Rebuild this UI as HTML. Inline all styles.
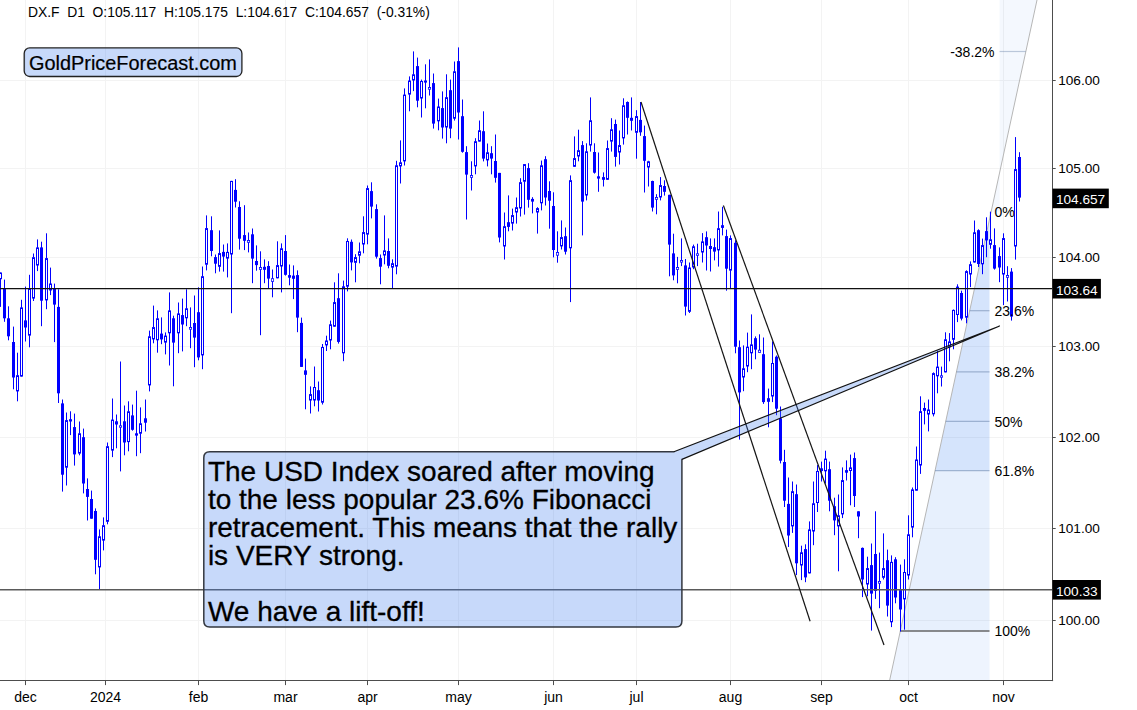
<!DOCTYPE html>
<html><head><meta charset="utf-8"><title>DX.F D1</title>
<style>
html,body{margin:0;padding:0;background:#fff;}
svg{display:block;}
text{font-family:"Liberation Sans",sans-serif;fill:#000;}
</style></head><body>
<svg width="1137" height="710" viewBox="0 0 1137 710">
<rect x="0" y="0" width="1137" height="710" fill="#fff"/>
<g stroke="#f3f3f3" stroke-width="1" fill="none">
<line x1="25.5" y1="0" x2="25.5" y2="680.5"/><line x1="105.5" y1="0" x2="105.5" y2="680.5"/><line x1="198.5" y1="0" x2="198.5" y2="680.5"/><line x1="285.5" y1="0" x2="285.5" y2="680.5"/><line x1="367.5" y1="0" x2="367.5" y2="680.5"/><line x1="458.5" y1="0" x2="458.5" y2="680.5"/><line x1="553.5" y1="0" x2="553.5" y2="680.5"/><line x1="636.5" y1="0" x2="636.5" y2="680.5"/><line x1="730.5" y1="0" x2="730.5" y2="680.5"/><line x1="821.5" y1="0" x2="821.5" y2="680.5"/><line x1="908.5" y1="0" x2="908.5" y2="680.5"/><line x1="1003.5" y1="0" x2="1003.5" y2="680.5"/><line x1="0" y1="80.5" x2="1052.5" y2="80.5"/><line x1="0" y1="168.5" x2="1052.5" y2="168.5"/><line x1="0" y1="257.5" x2="1052.5" y2="257.5"/><line x1="0" y1="346.5" x2="1052.5" y2="346.5"/><line x1="0" y1="437.5" x2="1052.5" y2="437.5"/><line x1="0" y1="528.5" x2="1052.5" y2="528.5"/><line x1="0" y1="620.5" x2="1052.5" y2="620.5"/>
</g>
<g id="fib">
<polygon points="991.1,211.7 989.5,211.7 989.5,470.7 935.0,470.7" fill="rgba(60,130,240,0.215)"/>
<polygon points="935.0,470.7 989.5,470.7 989.5,631.0 900.3,631.0" fill="rgba(60,130,240,0.12)"/>
<polygon points="900.3,631.0 989.5,631.0 989.5,680.5 889.6,680.5" fill="rgba(60,130,240,0.085)"/>
<polygon points="991.1,211.7 999.6,211.7 999.6,0.0 1037.0,0.0" fill="rgba(60,130,240,0.06)"/>
<line x1="889.6" y1="680.5" x2="1037.0" y2="0" stroke="#b6b6b6" stroke-width="1"/>
<line x1="969.7" y1="310.7" x2="989.5" y2="310.7" stroke="rgba(100,125,165,0.5)" stroke-width="1.2"/>
<line x1="956.4" y1="371.9" x2="989.5" y2="371.9" stroke="rgba(100,125,165,0.5)" stroke-width="1.2"/>
<line x1="945.7" y1="421.3" x2="989.5" y2="421.3" stroke="rgba(100,125,165,0.5)" stroke-width="1.2"/>
<line x1="935.0" y1="470.7" x2="989.5" y2="470.7" stroke="rgba(100,125,165,0.5)" stroke-width="1.2"/>
<line x1="999.6" y1="51.5" x2="1025.8" y2="51.5" stroke="rgba(100,125,165,0.4)" stroke-width="1.2"/>
<line x1="900.3" y1="631.0" x2="989.5" y2="631.0" stroke="#666" stroke-width="1.6"/>
</g>
<g id="candles" stroke="#0000ff" stroke-width="1" fill="#0000ff">
<line x1="0.5" y1="272.5" x2="0.5" y2="306.9"/><rect x="-0.5" y="273.00" width="2" height="5.70" fill="#fff" stroke-width="1"/>
<line x1="4.5" y1="279.6" x2="4.5" y2="321.8"/><rect x="3.0" y="288.4" width="3" height="29.9" stroke="none"/>
<line x1="8.5" y1="306.3" x2="8.5" y2="340.3"/><rect x="7.0" y="318.3" width="3" height="18.0" stroke="none"/>
<line x1="13.5" y1="326.6" x2="13.5" y2="389.3"/><rect x="12.0" y="342.0" width="3" height="35.5" stroke="none"/>
<line x1="17.5" y1="352.7" x2="17.5" y2="401.3"/><rect x="16.5" y="375.70" width="2" height="15.20" fill="#fff" stroke-width="1"/>
<line x1="21.5" y1="299.8" x2="21.5" y2="376.6"/><rect x="20.5" y="307.90" width="2" height="68.20" fill="#fff" stroke-width="1"/>
<line x1="25.5" y1="286.6" x2="25.5" y2="341.5"/><rect x="24.0" y="320.4" width="3" height="7.1" stroke="none"/>
<line x1="29.5" y1="274.8" x2="29.5" y2="347.3"/><rect x="28.5" y="288.90" width="2" height="46.20" fill="#fff" stroke-width="1"/>
<line x1="33.5" y1="253.5" x2="33.5" y2="301.0"/><rect x="32.5" y="257.70" width="2" height="40.40" fill="#fff" stroke-width="1"/>
<line x1="37.5" y1="239.4" x2="37.5" y2="271.1"/><rect x="36.5" y="247.90" width="2" height="17.10" fill="#fff" stroke-width="1"/>
<line x1="41.5" y1="241.7" x2="41.5" y2="326.2"/><rect x="40.0" y="247.4" width="3" height="53.3" stroke="none"/>
<line x1="46.5" y1="233.3" x2="46.5" y2="309.2"/><rect x="45.5" y="258.60" width="2" height="41.30" fill="#fff" stroke-width="1"/>
<line x1="50.5" y1="267.6" x2="50.5" y2="295.1"/><rect x="49.5" y="284.00" width="2" height="6.00" fill="#fff" stroke-width="1"/>
<line x1="54.5" y1="283.6" x2="54.5" y2="342.1"/><rect x="53.0" y="288.4" width="3" height="16.2" stroke="none"/>
<line x1="58.5" y1="289.3" x2="58.5" y2="403.0"/><rect x="57.0" y="306.9" width="3" height="86.4" stroke="none"/>
<line x1="62.5" y1="399.5" x2="62.5" y2="491.6"/><rect x="61.0" y="403.4" width="3" height="71.3" stroke="none"/>
<line x1="66.5" y1="412.5" x2="66.5" y2="485.5"/><rect x="65.5" y="420.60" width="2" height="46.60" fill="#fff" stroke-width="1"/>
<line x1="70.5" y1="411.3" x2="70.5" y2="435.1"/><rect x="69.0" y="419.2" width="3" height="2.3" stroke="none"/>
<line x1="74.5" y1="413.6" x2="74.5" y2="465.6"/><rect x="73.0" y="427.1" width="3" height="27.3" stroke="none"/>
<line x1="79.5" y1="421.5" x2="79.5" y2="455.3"/><rect x="78.5" y="433.80" width="2" height="19.30" fill="#fff" stroke-width="1"/>
<line x1="83.5" y1="428.6" x2="83.5" y2="493.4"/><rect x="82.0" y="437.2" width="3" height="46.3" stroke="none"/>
<line x1="87.5" y1="478.4" x2="87.5" y2="520.5"/><rect x="86.0" y="489.0" width="3" height="7.9" stroke="none"/>
<line x1="91.5" y1="490.6" x2="91.5" y2="518.7"/><rect x="90.0" y="499.0" width="3" height="19.7" stroke="none"/>
<line x1="95.5" y1="508.4" x2="95.5" y2="574.3"/><rect x="94.0" y="511.0" width="3" height="48.8" stroke="none"/>
<line x1="99.5" y1="529.4" x2="99.5" y2="589.4"/><rect x="98.5" y="536.80" width="2" height="30.10" fill="#fff" stroke-width="1"/>
<line x1="103.5" y1="517.4" x2="103.5" y2="550.4"/><rect x="102.5" y="525.70" width="2" height="14.40" fill="#fff" stroke-width="1"/>
<line x1="107.5" y1="442.5" x2="107.5" y2="524.3"/><rect x="106.5" y="446.70" width="2" height="74.60" fill="#fff" stroke-width="1"/>
<line x1="112.5" y1="398.5" x2="112.5" y2="457.1"/><rect x="111.5" y="420.10" width="2" height="30.00" fill="#fff" stroke-width="1"/>
<line x1="116.5" y1="414.5" x2="116.5" y2="448.3"/><rect x="115.0" y="421.3" width="3" height="3.2" stroke="none"/>
<line x1="120.5" y1="361.5" x2="120.5" y2="471.4"/><rect x="119.375" y="425.77" width="2.25" height="1.45" fill="#fff" stroke-width="0.75"/>
<line x1="124.5" y1="405.5" x2="124.5" y2="455.3"/><rect x="123.0" y="421.3" width="3" height="21.2" stroke="none"/>
<line x1="128.5" y1="401.3" x2="128.5" y2="451.3"/><rect x="127.5" y="411.80" width="2" height="29.80" fill="#fff" stroke-width="1"/>
<line x1="132.5" y1="404.6" x2="132.5" y2="430.7"/><rect x="131.0" y="415.4" width="3" height="14.4" stroke="none"/>
<line x1="136.5" y1="390.7" x2="136.5" y2="456.2"/><rect x="135.0" y="433.3" width="3" height="2.3" stroke="none"/>
<line x1="140.5" y1="407.4" x2="140.5" y2="453.2"/><rect x="139.5" y="423.80" width="2" height="9.40" fill="#fff" stroke-width="1"/>
<line x1="145.5" y1="399.5" x2="145.5" y2="431.5"/><rect x="144.0" y="418.3" width="3" height="4.4" stroke="none"/>
<line x1="149.5" y1="330.6" x2="149.5" y2="391.4"/><rect x="148.5" y="336.80" width="2" height="48.10" fill="#fff" stroke-width="1"/>
<line x1="153.5" y1="305.6" x2="153.5" y2="343.3"/><rect x="152.5" y="327.60" width="2" height="11.30" fill="#fff" stroke-width="1"/>
<line x1="157.5" y1="310.4" x2="157.5" y2="352.7"/><rect x="156.5" y="318.80" width="2" height="21.00" fill="#fff" stroke-width="1"/>
<line x1="161.5" y1="317.4" x2="161.5" y2="344.2"/><rect x="160.0" y="333.6" width="3" height="5.8" stroke="none"/>
<line x1="165.5" y1="332.4" x2="165.5" y2="354.4"/><rect x="164.5" y="336.10" width="2" height="6.00" fill="#fff" stroke-width="1"/>
<line x1="169.5" y1="292.4" x2="169.5" y2="365.5"/><rect x="168.5" y="310.90" width="2" height="21.90" fill="#fff" stroke-width="1"/>
<line x1="173.5" y1="315.7" x2="173.5" y2="386.3"/><rect x="172.0" y="318.3" width="3" height="24.3" stroke="none"/>
<line x1="178.5" y1="302.5" x2="178.5" y2="353.2"/><rect x="177.5" y="313.90" width="2" height="18.90" fill="#fff" stroke-width="1"/>
<line x1="182.5" y1="298.6" x2="182.5" y2="351.4"/><rect x="181.0" y="315.1" width="3" height="9.4" stroke="none"/>
<line x1="186.5" y1="289.3" x2="186.5" y2="326.2"/><rect x="185.5" y="308.80" width="2" height="9.00" fill="#fff" stroke-width="1"/>
<line x1="190.5" y1="307.4" x2="190.5" y2="348.2"/><rect x="189.375" y="327.48" width="2.25" height="1.75" fill="#fff" stroke-width="0.75"/>
<line x1="194.5" y1="295.5" x2="194.5" y2="367.2"/><rect x="193.0" y="323.0" width="3" height="14.6" stroke="none"/>
<line x1="198.5" y1="287.3" x2="198.5" y2="360.3"/><rect x="197.0" y="312.2" width="3" height="45.2" stroke="none"/>
<line x1="202.5" y1="266.5" x2="202.5" y2="369.2"/><rect x="201.5" y="276.70" width="2" height="78.20" fill="#fff" stroke-width="1"/>
<line x1="206.5" y1="215.4" x2="206.5" y2="270.4"/><rect x="205.5" y="228.60" width="2" height="35.60" fill="#fff" stroke-width="1"/>
<line x1="211.5" y1="216.3" x2="211.5" y2="256.3"/><rect x="210.0" y="230.2" width="3" height="20.8" stroke="none"/>
<line x1="215.5" y1="254.5" x2="215.5" y2="273.3"/><rect x="214.0" y="257.1" width="3" height="6.6" stroke="none"/>
<line x1="219.5" y1="230.4" x2="219.5" y2="271.6"/><rect x="218.5" y="253.60" width="2" height="12.70" fill="#fff" stroke-width="1"/>
<line x1="223.5" y1="244.5" x2="223.5" y2="271.6"/><rect x="222.0" y="251.9" width="3" height="4.7" stroke="none"/>
<line x1="227.5" y1="243.4" x2="227.5" y2="277.4"/><rect x="226.5" y="252.40" width="2" height="5.70" fill="#fff" stroke-width="1"/>
<line x1="231.5" y1="180.9" x2="231.5" y2="313.2"/><rect x="230.5" y="181.40" width="2" height="72.60" fill="#fff" stroke-width="1"/>
<line x1="235.5" y1="179.2" x2="235.5" y2="207.5"/><rect x="234.0" y="189.9" width="3" height="11.8" stroke="none"/>
<line x1="239.5" y1="201.3" x2="239.5" y2="249.6"/><rect x="238.0" y="207.0" width="3" height="31.7" stroke="none"/>
<line x1="244.5" y1="205.2" x2="244.5" y2="250.1"/><rect x="243.0" y="235.1" width="3" height="5.7" stroke="none"/>
<line x1="248.5" y1="232.5" x2="248.5" y2="252.4"/><rect x="247.375" y="240.47" width="2.25" height="1.85" fill="#fff" stroke-width="0.75"/>
<line x1="252.5" y1="228.5" x2="252.5" y2="283.2"/><rect x="251.0" y="234.3" width="3" height="24.3" stroke="none"/>
<line x1="256.5" y1="245.4" x2="256.5" y2="270.7"/><rect x="255.0" y="261.0" width="3" height="4.1" stroke="none"/>
<line x1="260.5" y1="251.3" x2="260.5" y2="335.2"/><rect x="259.375" y="267.57" width="2.25" height="1.85" fill="#fff" stroke-width="0.75"/>
<line x1="264.5" y1="259.4" x2="264.5" y2="283.2"/><rect x="263.0" y="266.8" width="3" height="3.0" stroke="none"/>
<line x1="268.5" y1="261.2" x2="268.5" y2="288.8"/><rect x="267.0" y="266.0" width="3" height="12.6" stroke="none"/>
<line x1="272.5" y1="269.5" x2="272.5" y2="297.3"/><rect x="271.375" y="278.68" width="2.25" height="2.75" fill="#fff" stroke-width="0.75"/>
<line x1="277.5" y1="241.3" x2="277.5" y2="278.3"/><rect x="276.5" y="265.60" width="2" height="12.20" fill="#fff" stroke-width="1"/>
<line x1="281.5" y1="243.4" x2="281.5" y2="292.4"/><rect x="280.5" y="248.80" width="2" height="17.20" fill="#fff" stroke-width="1"/>
<line x1="285.5" y1="235.1" x2="285.5" y2="275.6"/><rect x="284.0" y="251.0" width="3" height="23.8" stroke="none"/>
<line x1="289.5" y1="264.5" x2="289.5" y2="285.3"/><rect x="288.0" y="275.1" width="3" height="2.6" stroke="none"/>
<line x1="293.5" y1="265.4" x2="293.5" y2="299.1"/><rect x="292.0" y="275.6" width="3" height="3.2" stroke="none"/>
<line x1="297.5" y1="270.4" x2="297.5" y2="332.2"/><rect x="296.0" y="275.1" width="3" height="42.5" stroke="none"/>
<line x1="301.5" y1="317.6" x2="301.5" y2="366.9"/><rect x="300.0" y="322.9" width="3" height="44.0" stroke="none"/>
<line x1="305.5" y1="358.6" x2="305.5" y2="409.3"/><rect x="304.0" y="370.4" width="3" height="4.4" stroke="none"/>
<line x1="310.5" y1="386.4" x2="310.5" y2="413.5"/><rect x="309.5" y="394.60" width="2" height="5.40" fill="#fff" stroke-width="1"/>
<line x1="314.5" y1="366.5" x2="314.5" y2="406.3"/><rect x="313.5" y="387.50" width="2" height="12.50" fill="#fff" stroke-width="1"/>
<line x1="318.5" y1="381.5" x2="318.5" y2="411.5"/><rect x="317.0" y="390.2" width="3" height="10.3" stroke="none"/>
<line x1="322.5" y1="344.0" x2="322.5" y2="404.5"/><rect x="321.5" y="347.50" width="2" height="54.70" fill="#fff" stroke-width="1"/>
<line x1="326.5" y1="335.7" x2="326.5" y2="351.0"/><rect x="325.5" y="341.00" width="2" height="3.90" fill="#fff" stroke-width="1"/>
<line x1="330.5" y1="320.6" x2="330.5" y2="349.3"/><rect x="329.5" y="324.80" width="2" height="15.20" fill="#fff" stroke-width="1"/>
<line x1="334.5" y1="282.3" x2="334.5" y2="326.7"/><rect x="333.5" y="302.60" width="2" height="23.60" fill="#fff" stroke-width="1"/>
<line x1="338.5" y1="273.3" x2="338.5" y2="343.6"/><rect x="337.0" y="298.2" width="3" height="43.7" stroke="none"/>
<line x1="343.5" y1="280.6" x2="343.5" y2="361.2"/><rect x="342.5" y="286.80" width="2" height="66.00" fill="#fff" stroke-width="1"/>
<line x1="347.5" y1="238.3" x2="347.5" y2="291.4"/><rect x="346.5" y="241.50" width="2" height="44.70" fill="#fff" stroke-width="1"/>
<line x1="351.5" y1="239.5" x2="351.5" y2="270.4"/><rect x="350.0" y="241.8" width="3" height="20.6" stroke="none"/>
<line x1="355.5" y1="254.2" x2="355.5" y2="282.3"/><rect x="354.5" y="257.60" width="2" height="4.70" fill="#fff" stroke-width="1"/>
<line x1="359.5" y1="242.5" x2="359.5" y2="263.3"/><rect x="358.5" y="251.80" width="2" height="3.40" fill="#fff" stroke-width="1"/>
<line x1="363.5" y1="216.3" x2="363.5" y2="253.3"/><rect x="362.5" y="232.60" width="2" height="11.40" fill="#fff" stroke-width="1"/>
<line x1="367.5" y1="185.5" x2="367.5" y2="244.3"/><rect x="366.5" y="188.60" width="2" height="45.50" fill="#fff" stroke-width="1"/>
<line x1="371.5" y1="182.3" x2="371.5" y2="218.4"/><rect x="370.0" y="191.1" width="3" height="15.5" stroke="none"/>
<line x1="376.5" y1="204.3" x2="376.5" y2="258.6"/><rect x="375.0" y="209.1" width="3" height="47.6" stroke="none"/>
<line x1="380.5" y1="254.5" x2="380.5" y2="284.3"/><rect x="379.0" y="258.1" width="3" height="8.6" stroke="none"/>
<line x1="384.5" y1="215.4" x2="384.5" y2="264.3"/><rect x="383.5" y="250.90" width="2" height="4.10" fill="#fff" stroke-width="1"/>
<line x1="388.5" y1="238.4" x2="388.5" y2="268.3"/><rect x="387.0" y="251.0" width="3" height="14.8" stroke="none"/>
<line x1="392.5" y1="259.3" x2="392.5" y2="288.7"/><rect x="391.5" y="263.70" width="2" height="3.40" fill="#fff" stroke-width="1"/>
<line x1="396.5" y1="160.8" x2="396.5" y2="274.3"/><rect x="395.5" y="165.80" width="2" height="100.30" fill="#fff" stroke-width="1"/>
<line x1="400.5" y1="140.4" x2="400.5" y2="183.5"/><rect x="399.5" y="162.80" width="2" height="3.10" fill="#fff" stroke-width="1"/>
<line x1="404.5" y1="88.4" x2="404.5" y2="165.5"/><rect x="403.5" y="95.10" width="2" height="65.80" fill="#fff" stroke-width="1"/>
<line x1="409.5" y1="76.4" x2="409.5" y2="111.3"/><rect x="408.5" y="81.00" width="2" height="13.10" fill="#fff" stroke-width="1"/>
<line x1="413.5" y1="51.4" x2="413.5" y2="91.1"/><rect x="412.5" y="74.80" width="2" height="5.20" fill="#fff" stroke-width="1"/>
<line x1="417.5" y1="57.6" x2="417.5" y2="107.3"/><rect x="416.0" y="66.1" width="3" height="34.6" stroke="none"/>
<line x1="421.5" y1="79.6" x2="421.5" y2="117.5"/><rect x="420.5" y="81.50" width="2" height="16.50" fill="#fff" stroke-width="1"/>
<line x1="425.5" y1="64.3" x2="425.5" y2="108.3"/><rect x="424.0" y="80.5" width="3" height="2.1" stroke="none"/>
<line x1="429.5" y1="59.4" x2="429.5" y2="95.5"/><rect x="428.375" y="87.58" width="2.25" height="1.65" fill="#fff" stroke-width="0.75"/>
<line x1="433.5" y1="73.5" x2="433.5" y2="128.6"/><rect x="432.0" y="83.1" width="3" height="40.5" stroke="none"/>
<line x1="438.5" y1="98.6" x2="438.5" y2="130.3"/><rect x="437.5" y="107.00" width="2" height="13.80" fill="#fff" stroke-width="1"/>
<line x1="442.5" y1="91.4" x2="442.5" y2="138.6"/><rect x="441.0" y="108.1" width="3" height="19.4" stroke="none"/>
<line x1="446.5" y1="74.3" x2="446.5" y2="143.3"/><rect x="445.5" y="97.70" width="2" height="29.30" fill="#fff" stroke-width="1"/>
<line x1="450.5" y1="79.6" x2="450.5" y2="138.2"/><rect x="449.0" y="90.2" width="3" height="38.4" stroke="none"/>
<line x1="454.5" y1="61.5" x2="454.5" y2="120.6"/><rect x="453.5" y="71.80" width="2" height="46.40" fill="#fff" stroke-width="1"/>
<line x1="458.5" y1="47.4" x2="458.5" y2="139.5"/><rect x="457.0" y="61.1" width="3" height="51.4" stroke="none"/>
<line x1="462.5" y1="99.5" x2="462.5" y2="152.7"/><rect x="461.0" y="116.2" width="3" height="35.6" stroke="none"/>
<line x1="466.5" y1="146.2" x2="466.5" y2="219.5"/><rect x="465.0" y="152.1" width="3" height="22.5" stroke="none"/>
<line x1="471.5" y1="161.3" x2="471.5" y2="190.5"/><rect x="470.375" y="175.57" width="2.25" height="1.85" fill="#fff" stroke-width="0.75"/>
<line x1="475.5" y1="138.2" x2="475.5" y2="174.3"/><rect x="474.5" y="141.70" width="2" height="24.20" fill="#fff" stroke-width="1"/>
<line x1="479.5" y1="120.5" x2="479.5" y2="141.6"/><rect x="478.5" y="130.80" width="2" height="10.30" fill="#fff" stroke-width="1"/>
<line x1="483.5" y1="111.3" x2="483.5" y2="161.4"/><rect x="482.0" y="131.2" width="3" height="27.4" stroke="none"/>
<line x1="487.5" y1="143.5" x2="487.5" y2="166.4"/><rect x="486.5" y="152.80" width="2" height="7.10" fill="#fff" stroke-width="1"/>
<line x1="491.5" y1="146.2" x2="491.5" y2="174.3"/><rect x="490.0" y="153.2" width="3" height="5.4" stroke="none"/>
<line x1="495.5" y1="134.5" x2="495.5" y2="182.6"/><rect x="494.0" y="161.0" width="3" height="16.8" stroke="none"/>
<line x1="499.5" y1="172.9" x2="499.5" y2="242.4"/><rect x="498.0" y="172.9" width="3" height="64.6" stroke="none"/>
<line x1="504.5" y1="212.5" x2="504.5" y2="259.5"/><rect x="503.5" y="226.70" width="2" height="19.30" fill="#fff" stroke-width="1"/>
<line x1="508.5" y1="195.4" x2="508.5" y2="231.3"/><rect x="507.0" y="222.2" width="3" height="4.7" stroke="none"/>
<line x1="512.5" y1="208.6" x2="512.5" y2="230.5"/><rect x="511.5" y="215.60" width="2" height="7.50" fill="#fff" stroke-width="1"/>
<line x1="516.5" y1="197.5" x2="516.5" y2="223.6"/><rect x="515.5" y="207.70" width="2" height="4.30" fill="#fff" stroke-width="1"/>
<line x1="520.5" y1="178.2" x2="520.5" y2="216.5"/><rect x="519.5" y="182.70" width="2" height="25.30" fill="#fff" stroke-width="1"/>
<line x1="524.5" y1="164.1" x2="524.5" y2="214.6"/><rect x="523.5" y="164.60" width="2" height="16.60" fill="#fff" stroke-width="1"/>
<line x1="528.5" y1="163.2" x2="528.5" y2="207.6"/><rect x="527.0" y="168.1" width="3" height="31.7" stroke="none"/>
<line x1="532.5" y1="197.2" x2="532.5" y2="213.4"/><rect x="531.0" y="198.9" width="3" height="2.7" stroke="none"/>
<line x1="537.5" y1="207.2" x2="537.5" y2="233.6"/><rect x="536.5" y="208.60" width="2" height="3.40" fill="#fff" stroke-width="1"/>
<line x1="541.5" y1="160.6" x2="541.5" y2="210.4"/><rect x="540.5" y="165.80" width="2" height="37.00" fill="#fff" stroke-width="1"/>
<line x1="545.5" y1="156.2" x2="545.5" y2="205.5"/><rect x="544.0" y="159.2" width="3" height="38.3" stroke="none"/>
<line x1="549.5" y1="181.3" x2="549.5" y2="228.7"/><rect x="548.0" y="191.0" width="3" height="9.7" stroke="none"/>
<line x1="553.5" y1="192.3" x2="553.5" y2="257.4"/><rect x="552.0" y="206.0" width="3" height="44.0" stroke="none"/>
<line x1="557.5" y1="231.3" x2="557.5" y2="262.7"/><rect x="556.375" y="252.47" width="2.25" height="2.75" fill="#fff" stroke-width="0.75"/>
<line x1="561.5" y1="220.4" x2="561.5" y2="249.5"/><rect x="560.5" y="237.60" width="2" height="8.30" fill="#fff" stroke-width="1"/>
<line x1="565.5" y1="227.5" x2="565.5" y2="254.5"/><rect x="564.0" y="236.2" width="3" height="15.5" stroke="none"/>
<line x1="570.5" y1="175.4" x2="570.5" y2="302.1"/><rect x="569.5" y="180.70" width="2" height="67.10" fill="#fff" stroke-width="1"/>
<line x1="574.5" y1="136.4" x2="574.5" y2="166.8"/><rect x="573.5" y="158.60" width="2" height="7.70" fill="#fff" stroke-width="1"/>
<line x1="578.5" y1="129.7" x2="578.5" y2="161.3"/><rect x="577.5" y="150.70" width="2" height="5.30" fill="#fff" stroke-width="1"/>
<line x1="582.5" y1="141.1" x2="582.5" y2="235.4"/><rect x="581.0" y="145.1" width="3" height="56.5" stroke="none"/>
<line x1="586.5" y1="143.3" x2="586.5" y2="200.4"/><rect x="585.5" y="151.80" width="2" height="43.20" fill="#fff" stroke-width="1"/>
<line x1="590.5" y1="97.4" x2="590.5" y2="151.6"/><rect x="589.5" y="120.80" width="2" height="24.20" fill="#fff" stroke-width="1"/>
<line x1="594.5" y1="143.3" x2="594.5" y2="173.6"/><rect x="593.0" y="152.0" width="3" height="20.7" stroke="none"/>
<line x1="598.5" y1="152.5" x2="598.5" y2="191.8"/><rect x="597.0" y="176.3" width="3" height="2.3" stroke="none"/>
<line x1="603.5" y1="172.4" x2="603.5" y2="186.5"/><rect x="602.0" y="177.1" width="3" height="2.7" stroke="none"/>
<line x1="607.5" y1="140.5" x2="607.5" y2="179.8"/><rect x="606.5" y="148.60" width="2" height="30.70" fill="#fff" stroke-width="1"/>
<line x1="611.5" y1="118.2" x2="611.5" y2="151.6"/><rect x="610.5" y="129.80" width="2" height="11.30" fill="#fff" stroke-width="1"/>
<line x1="615.5" y1="119.6" x2="615.5" y2="166.6"/><rect x="614.0" y="124.0" width="3" height="32.9" stroke="none"/>
<line x1="619.5" y1="130.5" x2="619.5" y2="164.5"/><rect x="618.5" y="145.60" width="2" height="6.40" fill="#fff" stroke-width="1"/>
<line x1="623.5" y1="98.3" x2="623.5" y2="144.6"/><rect x="622.5" y="105.80" width="2" height="32.10" fill="#fff" stroke-width="1"/>
<line x1="627.5" y1="101.4" x2="627.5" y2="134.5"/><rect x="626.0" y="102.0" width="3" height="15.8" stroke="none"/>
<line x1="631.5" y1="97.4" x2="631.5" y2="130.5"/><rect x="630.0" y="117.8" width="3" height="3.0" stroke="none"/>
<line x1="636.5" y1="110.2" x2="636.5" y2="158.7"/><rect x="635.5" y="116.60" width="2" height="15.70" fill="#fff" stroke-width="1"/>
<line x1="640.5" y1="102.0" x2="640.5" y2="135.8"/><rect x="639.0" y="119.9" width="3" height="12.4" stroke="none"/>
<line x1="644.5" y1="125.6" x2="644.5" y2="192.5"/><rect x="643.0" y="136.1" width="3" height="24.7" stroke="none"/>
<line x1="648.5" y1="160.8" x2="648.5" y2="186.5"/><rect x="647.5" y="161.80" width="2" height="5.20" fill="#fff" stroke-width="1"/>
<line x1="652.5" y1="180.7" x2="652.5" y2="211.5"/><rect x="651.0" y="181.0" width="3" height="26.6" stroke="none"/>
<line x1="656.5" y1="194.2" x2="656.5" y2="214.3"/><rect x="655.375" y="197.38" width="2.25" height="1.95" fill="#fff" stroke-width="0.75"/>
<line x1="660.5" y1="177.1" x2="660.5" y2="200.4"/><rect x="659.5" y="185.60" width="2" height="11.40" fill="#fff" stroke-width="1"/>
<line x1="664.5" y1="180.3" x2="664.5" y2="195.6"/><rect x="663.0" y="186.0" width="3" height="5.8" stroke="none"/>
<line x1="669.5" y1="194.8" x2="669.5" y2="276.3"/><rect x="668.0" y="194.8" width="3" height="49.8" stroke="none"/>
<line x1="673.5" y1="233.7" x2="673.5" y2="280.3"/><rect x="672.0" y="253.4" width="3" height="22.0" stroke="none"/>
<line x1="677.5" y1="256.9" x2="677.5" y2="283.3"/><rect x="676.375" y="267.48" width="2.25" height="1.95" fill="#fff" stroke-width="0.75"/>
<line x1="681.5" y1="238.4" x2="681.5" y2="266.1"/><rect x="680.375" y="260.48" width="2.25" height="1.65" fill="#fff" stroke-width="0.75"/>
<line x1="685.5" y1="259.0" x2="685.5" y2="315.5"/><rect x="684.0" y="265.4" width="3" height="41.2" stroke="none"/>
<line x1="689.5" y1="262.5" x2="689.5" y2="313.0"/><rect x="688.5" y="268.00" width="2" height="43.30" fill="#fff" stroke-width="1"/>
<line x1="693.5" y1="244.6" x2="693.5" y2="269.2"/><rect x="692.5" y="246.80" width="2" height="20.20" fill="#fff" stroke-width="1"/>
<line x1="697.5" y1="243.7" x2="697.5" y2="266.1"/><rect x="696.375" y="253.78" width="2.25" height="1.55" fill="#fff" stroke-width="0.75"/>
<line x1="702.5" y1="233.1" x2="702.5" y2="262.5"/><rect x="701.5" y="241.90" width="2" height="10.10" fill="#fff" stroke-width="1"/>
<line x1="706.5" y1="231.4" x2="706.5" y2="270.5"/><rect x="705.0" y="237.2" width="3" height="8.3" stroke="none"/>
<line x1="710.5" y1="238.4" x2="710.5" y2="271.5"/><rect x="709.0" y="246.0" width="3" height="3.0" stroke="none"/>
<line x1="714.5" y1="238.4" x2="714.5" y2="260.4"/><rect x="713.0" y="247.2" width="3" height="4.4" stroke="none"/>
<line x1="718.5" y1="211.5" x2="718.5" y2="266.6"/><rect x="717.5" y="228.70" width="2" height="21.20" fill="#fff" stroke-width="1"/>
<line x1="722.5" y1="206.8" x2="722.5" y2="235.4"/><rect x="721.0" y="225.2" width="3" height="2.7" stroke="none"/>
<line x1="726.5" y1="229.6" x2="726.5" y2="290.7"/><rect x="725.0" y="236.1" width="3" height="32.6" stroke="none"/>
<line x1="730.5" y1="235.4" x2="730.5" y2="288.9"/><rect x="729.5" y="238.60" width="2" height="31.50" fill="#fff" stroke-width="1"/>
<line x1="735.5" y1="240.2" x2="735.5" y2="353.3"/><rect x="734.0" y="242.8" width="3" height="103.9" stroke="none"/>
<line x1="739.5" y1="340.5" x2="739.5" y2="439.6"/><rect x="738.0" y="347.2" width="3" height="45.2" stroke="none"/>
<line x1="743.5" y1="345.4" x2="743.5" y2="391.2"/><rect x="742.5" y="368.80" width="2" height="8.20" fill="#fff" stroke-width="1"/>
<line x1="747.5" y1="332.6" x2="747.5" y2="372.2"/><rect x="746.5" y="347.20" width="2" height="18.80" fill="#fff" stroke-width="1"/>
<line x1="751.5" y1="314.4" x2="751.5" y2="369.2"/><rect x="750.5" y="344.90" width="2" height="7.90" fill="#fff" stroke-width="1"/>
<line x1="755.5" y1="336.4" x2="755.5" y2="359.3"/><rect x="754.0" y="338.2" width="3" height="11.4" stroke="none"/>
<line x1="759.5" y1="334.3" x2="759.5" y2="352.8"/><rect x="758.375" y="350.18" width="2.25" height="2.25" fill="#fff" stroke-width="0.75"/>
<line x1="763.5" y1="337.5" x2="763.5" y2="403.9"/><rect x="762.0" y="354.2" width="3" height="47.9" stroke="none"/>
<line x1="768.5" y1="388.6" x2="768.5" y2="427.3"/><rect x="767.0" y="398.2" width="3" height="3.6" stroke="none"/>
<line x1="772.5" y1="341.4" x2="772.5" y2="402.1"/><rect x="771.5" y="363.50" width="2" height="32.50" fill="#fff" stroke-width="1"/>
<line x1="776.5" y1="355.5" x2="776.5" y2="415.2"/><rect x="775.0" y="356.7" width="3" height="52.0" stroke="none"/>
<line x1="780.5" y1="406.5" x2="780.5" y2="463.4"/><rect x="779.0" y="418.3" width="3" height="42.4" stroke="none"/>
<line x1="784.5" y1="449.8" x2="784.5" y2="507.0"/><rect x="783.0" y="462.0" width="3" height="38.7" stroke="none"/>
<line x1="788.5" y1="477.5" x2="788.5" y2="547.0"/><rect x="787.0" y="503.9" width="3" height="31.6" stroke="none"/>
<line x1="792.5" y1="481.5" x2="792.5" y2="532.9"/><rect x="791.5" y="491.70" width="2" height="34.20" fill="#fff" stroke-width="1"/>
<line x1="796.5" y1="484.5" x2="796.5" y2="575.1"/><rect x="795.0" y="494.2" width="3" height="69.1" stroke="none"/>
<line x1="801.5" y1="545.7" x2="801.5" y2="580.1"/><rect x="800.5" y="552.80" width="2" height="12.20" fill="#fff" stroke-width="1"/>
<line x1="805.5" y1="544.3" x2="805.5" y2="582.2"/><rect x="804.0" y="549.1" width="3" height="28.3" stroke="none"/>
<line x1="809.5" y1="521.4" x2="809.5" y2="573.4"/><rect x="808.5" y="529.90" width="2" height="43.00" fill="#fff" stroke-width="1"/>
<line x1="813.5" y1="481.5" x2="813.5" y2="545.2"/><rect x="812.5" y="503.80" width="2" height="27.20" fill="#fff" stroke-width="1"/>
<line x1="817.5" y1="465.1" x2="817.5" y2="512.0"/><rect x="816.5" y="471.50" width="2" height="31.00" fill="#fff" stroke-width="1"/>
<line x1="821.5" y1="461.6" x2="821.5" y2="481.5"/><rect x="820.0" y="468.3" width="3" height="2.7" stroke="none"/>
<line x1="825.5" y1="450.7" x2="825.5" y2="483.6"/><rect x="824.5" y="459.10" width="2" height="11.70" fill="#fff" stroke-width="1"/>
<line x1="829.5" y1="461.6" x2="829.5" y2="511.3"/><rect x="828.0" y="469.2" width="3" height="31.5" stroke="none"/>
<line x1="834.5" y1="497.7" x2="834.5" y2="535.2"/><rect x="833.0" y="506.2" width="3" height="14.2" stroke="none"/>
<line x1="838.5" y1="494.5" x2="838.5" y2="571.3"/><rect x="837.5" y="515.80" width="2" height="10.10" fill="#fff" stroke-width="1"/>
<line x1="842.5" y1="467.4" x2="842.5" y2="518.1"/><rect x="841.5" y="480.60" width="2" height="33.30" fill="#fff" stroke-width="1"/>
<line x1="846.5" y1="460.4" x2="846.5" y2="480.5"/><rect x="845.0" y="470.1" width="3" height="2.6" stroke="none"/>
<line x1="850.5" y1="454.6" x2="850.5" y2="505.3"/><rect x="849.5" y="467.90" width="2" height="2.60" fill="#fff" stroke-width="1"/>
<line x1="854.5" y1="452.5" x2="854.5" y2="507.0"/><rect x="853.0" y="458.1" width="3" height="37.9" stroke="none"/>
<line x1="858.5" y1="511.3" x2="858.5" y2="538.2"/><rect x="857.0" y="511.3" width="3" height="5.2" stroke="none"/>
<line x1="862.5" y1="547.5" x2="862.5" y2="597.1"/><rect x="861.0" y="547.9" width="3" height="31.6" stroke="none"/>
<line x1="867.5" y1="556.7" x2="867.5" y2="596.3"/><rect x="866.5" y="568.60" width="2" height="15.40" fill="#fff" stroke-width="1"/>
<line x1="871.5" y1="543.5" x2="871.5" y2="630.6"/><rect x="870.0" y="565.1" width="3" height="28.5" stroke="none"/>
<line x1="875.5" y1="511.3" x2="875.5" y2="598.9"/><rect x="874.0" y="554.0" width="3" height="37.0" stroke="none"/>
<line x1="879.5" y1="552.6" x2="879.5" y2="608.2"/><rect x="878.375" y="581.38" width="2.25" height="1.85" fill="#fff" stroke-width="0.75"/>
<line x1="883.5" y1="533.4" x2="883.5" y2="579.5"/><rect x="882.5" y="568.60" width="2" height="8.70" fill="#fff" stroke-width="1"/>
<line x1="887.5" y1="549.6" x2="887.5" y2="616.5"/><rect x="886.0" y="560.2" width="3" height="45.4" stroke="none"/>
<line x1="891.5" y1="555.4" x2="891.5" y2="627.1"/><rect x="890.5" y="562.40" width="2" height="59.40" fill="#fff" stroke-width="1"/>
<line x1="895.5" y1="557.2" x2="895.5" y2="603.3"/><rect x="894.0" y="559.3" width="3" height="38.2" stroke="none"/>
<line x1="900.5" y1="564.6" x2="900.5" y2="631.5"/><rect x="899.0" y="590.1" width="3" height="19.4" stroke="none"/>
<line x1="904.5" y1="559.3" x2="904.5" y2="629.7"/><rect x="903.5" y="572.50" width="2" height="26.40" fill="#fff" stroke-width="1"/>
<line x1="908.5" y1="515.3" x2="908.5" y2="579.5"/><rect x="907.5" y="534.80" width="2" height="40.20" fill="#fff" stroke-width="1"/>
<line x1="912.5" y1="487.5" x2="912.5" y2="537.3"/><rect x="911.5" y="489.90" width="2" height="37.20" fill="#fff" stroke-width="1"/>
<line x1="916.5" y1="446.5" x2="916.5" y2="490.7"/><rect x="915.5" y="460.00" width="2" height="30.20" fill="#fff" stroke-width="1"/>
<line x1="920.5" y1="396.3" x2="920.5" y2="473.9"/><rect x="919.5" y="411.70" width="2" height="53.30" fill="#fff" stroke-width="1"/>
<line x1="924.5" y1="402.6" x2="924.5" y2="424.4"/><rect x="923.0" y="408.0" width="3" height="2.8" stroke="none"/>
<line x1="928.5" y1="399.5" x2="928.5" y2="431.4"/><rect x="927.5" y="410.00" width="2" height="4.00" fill="#fff" stroke-width="1"/>
<line x1="933.5" y1="372.4" x2="933.5" y2="416.4"/><rect x="932.5" y="373.60" width="2" height="40.20" fill="#fff" stroke-width="1"/>
<line x1="937.5" y1="350.7" x2="937.5" y2="393.3"/><rect x="936.5" y="367.10" width="2" height="8.70" fill="#fff" stroke-width="1"/>
<line x1="941.5" y1="366.6" x2="941.5" y2="386.5"/><rect x="940.375" y="375.77" width="2.25" height="1.45" fill="#fff" stroke-width="0.75"/>
<line x1="945.5" y1="332.3" x2="945.5" y2="372.4"/><rect x="944.5" y="339.80" width="2" height="32.10" fill="#fff" stroke-width="1"/>
<line x1="949.5" y1="333.1" x2="949.5" y2="361.3"/><rect x="948.5" y="341.90" width="2" height="4.80" fill="#fff" stroke-width="1"/>
<line x1="953.5" y1="309.5" x2="953.5" y2="349.3"/><rect x="952.5" y="310.40" width="2" height="28.90" fill="#fff" stroke-width="1"/>
<line x1="957.5" y1="284.3" x2="957.5" y2="322.1"/><rect x="956.5" y="287.10" width="2" height="27.40" fill="#fff" stroke-width="1"/>
<line x1="961.5" y1="290.7" x2="961.5" y2="320.4"/><rect x="960.0" y="293.0" width="3" height="25.6" stroke="none"/>
<line x1="966.5" y1="270.3" x2="966.5" y2="323.3"/><rect x="965.5" y="271.60" width="2" height="45.60" fill="#fff" stroke-width="1"/>
<line x1="970.5" y1="261.4" x2="970.5" y2="287.1"/><rect x="969.5" y="264.70" width="2" height="9.30" fill="#fff" stroke-width="1"/>
<line x1="974.5" y1="220.5" x2="974.5" y2="262.5"/><rect x="973.5" y="232.80" width="2" height="29.20" fill="#fff" stroke-width="1"/>
<line x1="978.5" y1="229.3" x2="978.5" y2="267.0"/><rect x="977.0" y="230.2" width="3" height="33.8" stroke="none"/>
<line x1="982.5" y1="238.6" x2="982.5" y2="274.2"/><rect x="981.5" y="245.60" width="2" height="18.20" fill="#fff" stroke-width="1"/>
<line x1="986.5" y1="217.3" x2="986.5" y2="257.2"/><rect x="985.0" y="231.1" width="3" height="9.3" stroke="none"/>
<line x1="990.5" y1="211.7" x2="990.5" y2="248.7"/><rect x="989.5" y="239.80" width="2" height="4.50" fill="#fff" stroke-width="1"/>
<line x1="994.5" y1="228.4" x2="994.5" y2="269.6"/><rect x="993.0" y="245.1" width="3" height="23.5" stroke="none"/>
<line x1="999.5" y1="247.4" x2="999.5" y2="282.2"/><rect x="998.0" y="256.1" width="3" height="11.4" stroke="none"/>
<line x1="1003.5" y1="233.3" x2="1003.5" y2="305.1"/><rect x="1002.5" y="238.60" width="2" height="35.40" fill="#fff" stroke-width="1"/>
<line x1="1007.5" y1="266.2" x2="1007.5" y2="301.5"/><rect x="1006.375" y="275.57" width="2.25" height="1.75" fill="#fff" stroke-width="0.75"/>
<line x1="1011.5" y1="268.1" x2="1011.5" y2="320.6"/><rect x="1010.0" y="271.6" width="3" height="45.0" stroke="none"/>
<line x1="1015.5" y1="137.1" x2="1015.5" y2="259.6"/><rect x="1014.5" y="169.60" width="2" height="76.40" fill="#fff" stroke-width="1"/>
<line x1="1019.5" y1="152.2" x2="1019.5" y2="201.5"/><rect x="1018.0" y="157.0" width="3" height="40.6" stroke="none"/>
</g>
<line x1="0" y1="288.7" x2="1052.5" y2="288.7" stroke="#111" stroke-width="1.25"/>
<line x1="0" y1="589.7" x2="1052.5" y2="589.7" stroke="#5a5a5a" stroke-width="1.6"/>
<line x1="641" y1="102" x2="810.1" y2="621.3" stroke="#151515" stroke-width="1.2"/>
<line x1="723.4" y1="205.5" x2="884" y2="645" stroke="#151515" stroke-width="1.2"/>
<path d="M209.8,451.7 L673.9,451.7 L999.7,326 L681.9,459.4 L681.9,620.9 Q681.9,626.9 675.9,626.9 L209.8,626.9 Q203.8,626.9 203.8,620.9 L203.8,457.7 Q203.8,451.7 209.8,451.7 Z" fill="rgba(70,130,240,0.3)" stroke="none"/>
<path d="M673.9,451.7 L209.8,451.7 Q203.8,451.7 203.8,457.7 L203.8,620.9 Q203.8,626.9 209.8,626.9 L675.9,626.9 Q681.9,626.9 681.9,620.9 L681.9,459.4" fill="none" stroke="#33373f" stroke-width="1.5" stroke-linecap="round"/>
<path d="M673.9,451.7 L999.7,326 L681.9,459.4" fill="none" stroke="#111" stroke-width="1.15" stroke-linejoin="miter"/>
<text x="207.9" y="481.2" font-size="28" stroke="#000" stroke-width="0.3">The USD Index soared after moving</text>
<text x="207.9" y="509.1" font-size="28" stroke="#000" stroke-width="0.3">to the less popular 23.6% Fibonacci</text>
<text x="207.9" y="537.0" font-size="28" stroke="#000" stroke-width="0.3">retracement. This means that the rally</text>
<text x="207.9" y="564.9" font-size="28" stroke="#000" stroke-width="0.3">is VERY strong.</text>
<text x="207.9" y="620.7" font-size="28" stroke="#000" stroke-width="0.3">We have a lift-off!</text>
<rect x="24.2" y="47.9" width="217.7" height="28.6" rx="5.5" ry="5.5" fill="rgba(70,130,240,0.3)" stroke="#222" stroke-width="1.3"/>
<text x="29" y="70.4" font-size="19.9" stroke="#000" stroke-width="0.2">GoldPriceForecast.com</text>
<text x="27.9" y="17.2" font-size="13.87" xml:space="preserve">DX.F  D1  O:105.117  H:105.175  L:104.617  C:104.657  (-0.31%)</text>
<rect x="1052.0" y="0" width="85.0" height="710" fill="#fff"/>
<rect x="0" y="680.5" width="1137" height="29.5" fill="#fff"/>
<g stroke="#4d4d4d" stroke-width="1" fill="none"><line x1="1052.5" y1="0" x2="1052.5" y2="681.1"/><line x1="0" y1="680.5" x2="1053.1" y2="680.5"/>
<line x1="25.5" y1="680.5" x2="25.5" y2="685.1"/><line x1="105.5" y1="680.5" x2="105.5" y2="685.1"/><line x1="198.5" y1="680.5" x2="198.5" y2="685.1"/><line x1="285.5" y1="680.5" x2="285.5" y2="685.1"/><line x1="367.5" y1="680.5" x2="367.5" y2="685.1"/><line x1="458.5" y1="680.5" x2="458.5" y2="685.1"/><line x1="553.5" y1="680.5" x2="553.5" y2="685.1"/><line x1="636.5" y1="680.5" x2="636.5" y2="685.1"/><line x1="730.5" y1="680.5" x2="730.5" y2="685.1"/><line x1="821.5" y1="680.5" x2="821.5" y2="685.1"/><line x1="908.5" y1="680.5" x2="908.5" y2="685.1"/><line x1="1003.5" y1="680.5" x2="1003.5" y2="685.1"/><line x1="1052.5" y1="80.5" x2="1055.7" y2="80.5"/><line x1="1052.5" y1="168.5" x2="1055.7" y2="168.5"/><line x1="1052.5" y1="257.5" x2="1055.7" y2="257.5"/><line x1="1052.5" y1="346.5" x2="1055.7" y2="346.5"/><line x1="1052.5" y1="437.5" x2="1055.7" y2="437.5"/><line x1="1052.5" y1="528.5" x2="1055.7" y2="528.5"/><line x1="1052.5" y1="620.5" x2="1055.7" y2="620.5"/></g>
<text x="25.5" y="701.8" font-size="14" text-anchor="middle">dec</text>
<text x="105.5" y="701.8" font-size="14" text-anchor="middle">2024</text>
<text x="198.5" y="701.8" font-size="14" text-anchor="middle">feb</text>
<text x="285.5" y="701.8" font-size="14" text-anchor="middle">mar</text>
<text x="367.5" y="701.8" font-size="14" text-anchor="middle">apr</text>
<text x="458.5" y="701.8" font-size="14" text-anchor="middle">may</text>
<text x="553.5" y="701.8" font-size="14" text-anchor="middle">jun</text>
<text x="636.5" y="701.8" font-size="14" text-anchor="middle">jul</text>
<text x="730.5" y="701.8" font-size="14" text-anchor="middle">aug</text>
<text x="821.5" y="701.8" font-size="14" text-anchor="middle">sep</text>
<text x="908.5" y="701.8" font-size="14" text-anchor="middle">oct</text>
<text x="1003.5" y="701.8" font-size="14" text-anchor="middle">nov</text>
<text x="1058.2" y="84.9" font-size="13.65">106.00</text>
<text x="1058.2" y="172.9" font-size="13.65">105.00</text>
<text x="1058.2" y="261.9" font-size="13.65">104.00</text>
<text x="1058.2" y="350.9" font-size="13.65">103.00</text>
<text x="1058.2" y="441.9" font-size="13.65">102.00</text>
<text x="1058.2" y="532.9" font-size="13.65">101.00</text>
<text x="1058.2" y="624.9" font-size="13.65">100.00</text>
<text x="994.5" y="216.9" font-size="14">0%</text>
<text x="994.5" y="315.9" font-size="14">23.6%</text>
<text x="994.5" y="377.1" font-size="14">38.2%</text>
<text x="994.5" y="426.5" font-size="14">50%</text>
<text x="994.5" y="475.9" font-size="14">61.8%</text>
<text x="994.5" y="636.2" font-size="14">100%</text>
<text x="994.5" y="56.7" font-size="14" text-anchor="end">-38.2%</text>
<rect x="1052.5" y="188.6" width="56.3" height="19.6" fill="#000"/>
<text x="1055.9" y="204.4" font-size="13.65" style="fill:#fff">104.657</text>
<rect x="1052.5" y="278.9" width="48.4" height="19.6" fill="#000"/>
<text x="1055.9" y="294.7" font-size="13.65" style="fill:#fff">103.64</text>
<rect x="1052.5" y="580.0" width="48.4" height="19.6" fill="#000"/>
<text x="1055.9" y="595.8" font-size="13.65" style="fill:#fff">100.33</text>
</svg>
</body></html>
